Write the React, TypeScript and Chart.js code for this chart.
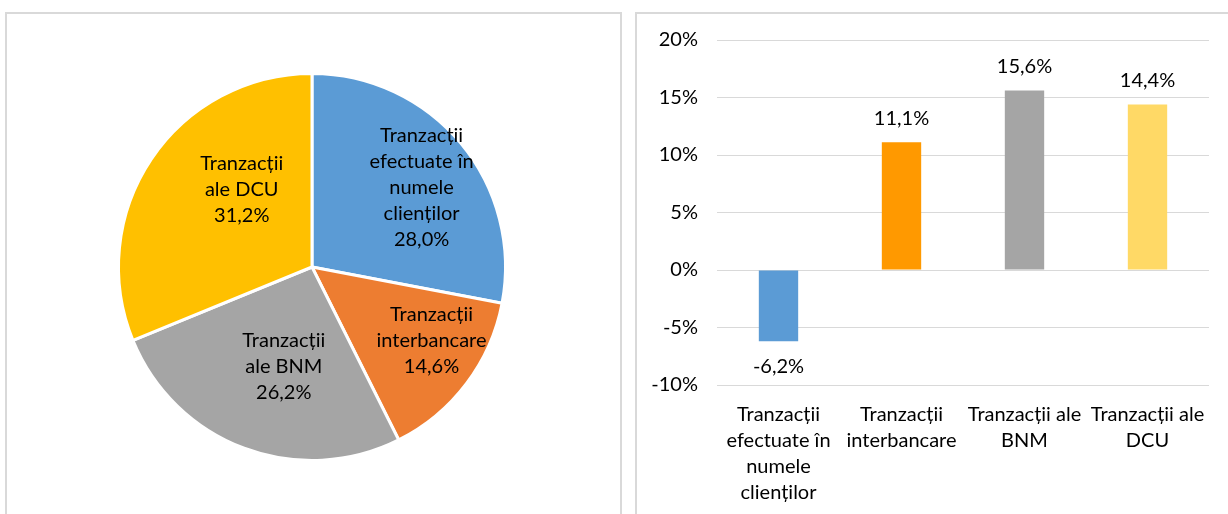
import React, { useEffect, useRef } from 'react';
import { Chart, registerables } from 'chart.js';
Chart.register(...registerables);

// ---------- Data ----------
const pieCategories: string[][] = [
  ['Tranzacții', 'efectuate în', 'numele', 'clienților'],
  ['Tranzacții', 'interbancare'],
  ['Tranzacții', 'ale BNM'],
  ['Tranzacții', 'ale DCU'],
];
const pieValues = [28.0, 14.6, 26.2, 31.2];
const pieColors = ['#5B9BD5', '#ED7D31', '#A5A5A5', '#FFC000'];

const barCategories: string[][] = [
  ['Tranzacții', 'efectuate în', 'numele', 'clienților'],
  ['Tranzacții', 'interbancare'],
  ['Tranzacții ale', 'BNM'],
  ['Tranzacții ale', 'DCU'],
];
const barValues = [-6.2, 11.1, 15.6, 14.4];
const barColors = ['#5B9BD5', '#FF9900', '#A5A5A5', '#FFD966'];

const yMin = -10;
const yMax = 20;
const yStep = 5;

// ---------- Style ----------
const FONT = "Lato, 'Open Sans', sans-serif";
const FONT_SIZE = 20;
const TEXT_COLOR = '#000000';
const GRID_COLOR = '#d9d9d9';

// label placement (angle shift in degrees, radius as fraction of outer radius)
const pieLabelAngleShift = [3.6, -5.5, -4.7, 13.9];
const pieLabelRadius = [0.70, 0.725, 0.535, 0.54];

const fmt = (v: number) => v.toFixed(1).replace('.', ',') + '%';

const pieLabelPlugin = {
  id: 'pieLabels',
  afterDatasetsDraw(chart: any) {
    const ctx = chart.ctx;
    const meta = chart.getDatasetMeta(0);
    ctx.save();
    ctx.font = `${FONT_SIZE}px ${FONT}`;
    ctx.fillStyle = TEXT_COLOR;
    ctx.textAlign = 'center';
    ctx.textBaseline = 'middle';
    const lh = 26;
    meta.data.forEach((arc: any, i: number) => {
      const { x, y, startAngle, endAngle, outerRadius } = arc.getProps(
        ['x', 'y', 'startAngle', 'endAngle', 'outerRadius'],
        true
      );
      const mid = (startAngle + endAngle) / 2 + (pieLabelAngleShift[i] * Math.PI) / 180;
      const r = outerRadius * pieLabelRadius[i];
      const cx = x + Math.cos(mid) * r;
      const cy = y + Math.sin(mid) * r;
      const lines = [...pieCategories[i], fmt(pieValues[i])];
      const y0 = cy - ((lines.length - 1) * lh) / 2;
      lines.forEach((t, k) => ctx.fillText(t, cx, y0 + k * lh));
    });
    ctx.restore();
  },
};

const barLabelPlugin = {
  id: 'barLabels',
  afterDatasetsDraw(chart: any) {
    const ctx = chart.ctx;
    const meta = chart.getDatasetMeta(0);
    ctx.save();
    ctx.font = `${FONT_SIZE}px ${FONT}`;
    ctx.fillStyle = TEXT_COLOR;
    ctx.textAlign = 'center';
    ctx.textBaseline = 'middle';
    meta.data.forEach((bar: any, i: number) => {
      const v = barValues[i];
      const { x, y } = bar.getProps(['x', 'y'], true);
      const ty = v >= 0 ? y - 24 : y + 25;
      ctx.fillText(fmt(v), x, ty);
    });
    ctx.restore();
  },
};

const PIE_SIZE = 400;
const BAR_W = 592;
const BAR_H = 500;

function PieChart() {
  const ref = useRef<HTMLCanvasElement>(null);
  useEffect(() => {
    if (!ref.current) return;
    const chart = new Chart(ref.current, {
      type: 'pie',
      data: {
        labels: pieCategories.map((c) => c.join(' ')),
        datasets: [
          {
            data: pieValues,
            backgroundColor: pieColors,
            borderColor: '#ffffff',
            borderWidth: 3,
          },
        ],
      },
      options: {
        responsive: false,
        animation: false,
        layout: { padding: 5 },
        plugins: { legend: { display: false }, tooltip: { enabled: false } },
      },
      plugins: [pieLabelPlugin],
    });
    return () => chart.destroy();
  }, []);
  return <canvas ref={ref} width={PIE_SIZE} height={PIE_SIZE} style={{ width: PIE_SIZE, height: PIE_SIZE, display: 'block' }} />;
}

function BarChart() {
  const ref = useRef<HTMLCanvasElement>(null);
  useEffect(() => {
    if (!ref.current) return;
    const chart = new Chart(ref.current, {
      type: 'bar',
      data: {
        labels: barCategories,
        datasets: [
          {
            data: barValues,
            backgroundColor: barColors,
            barPercentage: 0.32,
            categoryPercentage: 1,
          },
        ],
      },
      options: {
        responsive: false,
        animation: false,
        layout: { padding: { left: 0, top: 26, right: 19, bottom: 0 } },
        plugins: { legend: { display: false }, tooltip: { enabled: false } },
        scales: {
          x: {
            grid: { display: false },
            border: { display: false },
            ticks: {
              color: TEXT_COLOR,
              font: { family: FONT, size: FONT_SIZE, lineHeight: 1.3 },
              padding: 9,
              maxRotation: 0,
              autoSkip: false,
            },
            afterFit: (s: any) => {
              s.height = 129;
            },
          },
          y: {
            min: yMin,
            max: yMax,
            grid: { color: GRID_COLOR, lineWidth: 1, drawTicks: false },
            border: { display: false },
            ticks: {
              stepSize: yStep,
              color: TEXT_COLOR,
              font: { family: FONT, size: FONT_SIZE },
              padding: 19,
              callback: (v: any) => v + '%',
            },
            afterFit: (s: any) => {
              s.width = 81;
              s.paddingTop = 0;
              s.paddingBottom = 0;
            },
          },
        },
      },
      plugins: [barLabelPlugin],
    });
    return () => chart.destroy();
  }, []);
  return <canvas ref={ref} width={BAR_W} height={BAR_H} style={{ width: BAR_W, height: BAR_H, display: 'block' }} />;
}

export default function App() {
  return (
    <div style={{ position: 'fixed', left: 0, top: 0, width: 1228, height: 514, background: '#fff', overflow: 'hidden' }}>
      <div
        style={{
          position: 'absolute',
          left: 5,
          top: 12,
          width: 613,
          height: 540,
          border: `2px solid ${GRID_COLOR}`,
        }}
      />
      <div
        style={{
          position: 'absolute',
          left: 635,
          top: 12,
          width: 640,
          height: 540,
          border: `2px solid ${GRID_COLOR}`,
        }}
      />
      <div style={{ position: 'absolute', left: 312 - PIE_SIZE / 2, top: 267 - PIE_SIZE / 2 }}>
        <PieChart />
      </div>
      <div style={{ position: 'absolute', left: 636, top: 14 }}>
        <BarChart />
      </div>
    </div>
  );
}
